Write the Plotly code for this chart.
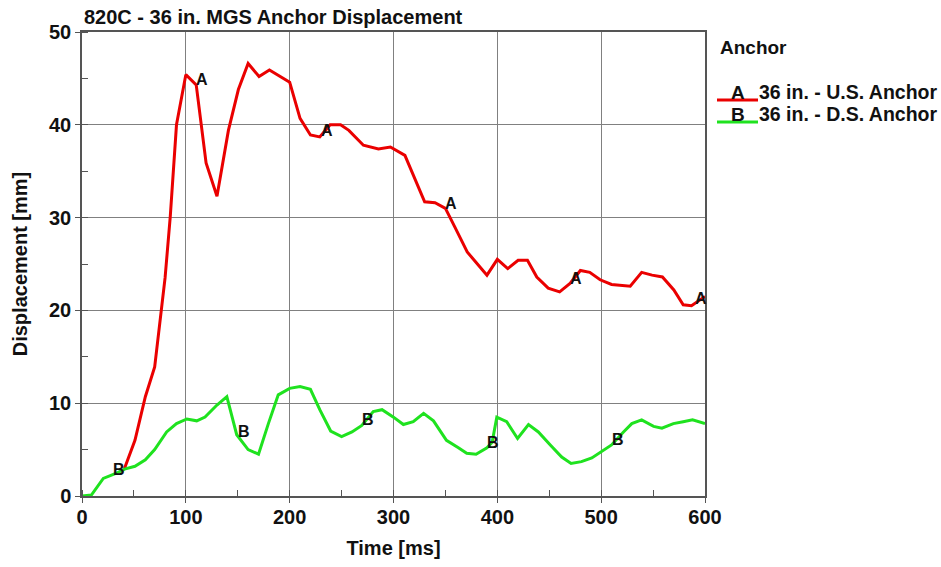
import numpy as np
import plotly.graph_objects as go

# Time samples [ms] and displacement [mm] for each anchor
time_us = [41, 51, 61, 70, 80, 85, 91, 100, 110, 119.5, 130, 141, 150.6, 160, 170.5, 180.5, 200,
           210, 220, 229, 239, 249, 257, 271, 285.5, 297, 311, 321, 330, 340, 350, 359, 371, 380,
           390, 400, 410, 420, 429, 438, 449, 460, 470, 480, 489, 499, 510, 528, 539, 549, 559,
           570, 579, 587, 600]
disp_us = [3.0, 6.0, 10.7, 13.9, 23.5, 30.1, 40.0, 45.4, 44.3, 35.9, 32.3, 39.4, 43.8, 46.6, 45.2,
           45.9, 44.6, 40.7, 38.9, 38.7, 40.0, 40.0, 39.4, 37.8, 37.4, 37.6, 36.7, 34.0, 31.7, 31.6,
           31.0, 29.0, 26.3, 25.1, 23.8, 25.5, 24.5, 25.4, 25.4, 23.6, 22.4, 22.0, 22.9, 24.3, 24.1,
           23.3, 22.8, 22.6, 24.1, 23.8, 23.6, 22.2, 20.6, 20.5, 21.5]

time_ds = [0, 9, 20.5, 32, 41, 51, 61, 70, 81.5, 91, 101, 110.5, 118.5, 130, 139.5, 149, 160, 170,
           179.5, 189, 200, 210, 220, 229, 239.5, 250, 260, 269.5, 280.5, 289, 300, 309.5, 319,
           329, 338.5, 351, 362.5, 370.5, 379.5, 390, 395, 399.5, 409, 419.5, 430, 439.5, 451, 462,
           471, 481, 491, 500.5, 510, 521.5, 529.5, 539, 550.5, 558.5, 569.5, 579, 588, 600]
disp_ds = [0.0, 0.1, 1.9, 2.4, 2.9, 3.2, 3.9, 5.0, 6.9, 7.8, 8.3, 8.1, 8.5, 9.8, 10.7, 6.6, 5.0, 4.5,
           7.8, 10.9, 11.6, 11.8, 11.5, 9.3, 7.0, 6.4, 6.9, 7.6, 9.1, 9.3, 8.5, 7.7, 8.0, 8.9, 8.1,
           6.0, 5.2, 4.6, 4.5, 5.2, 5.8, 8.5, 8.0, 6.2, 7.7, 6.9, 5.5, 4.2, 3.5, 3.7, 4.1, 4.8, 5.5,
           6.9, 7.8, 8.2, 7.5, 7.3, 7.8, 8.0, 8.2, 7.8]

# Points along each line where the curve identifier letter is attached [ms]
label_t_us = [110, 230, 350, 470, 590]
label_t_ds = [30, 150, 270, 390, 510]

series_names = ["36 in. - U.S. Anchor", "36 in. - D.S. Anchor"]
series_letters = ["A", "B"]
series_colors = ["#ea0000", "#1fe21f"]

x_ticks = [0, 100, 200, 300, 400, 500, 600]
y_ticks = [0, 10, 20, 30, 40, 50]

FONT = "Liberation Sans, Arial, sans-serif"
FS = 20
W, H = 941, 567
L, R, T, B = 82, 236, 32, 71
PW, PH = W - L - R, H - T - B


def px(x):
    return (x - L) / PW


def py(y):
    return (H - B - y) / PH


fig = go.Figure()

for t, d, c in [(time_us, disp_us, series_colors[0]), (time_ds, disp_ds, series_colors[1])]:
    fig.add_trace(go.Scatter(x=t, y=d, mode="lines", line=dict(color=c, width=3),
                             showlegend=False, hoverinfo="skip"))

annotations = []
# Curve identifier letters sitting on the lines
for lt, t, d, letter in [(label_t_us, time_us, disp_us, "A"), (label_t_ds, time_ds, disp_ds, "B")]:
    for xv, yv in zip(lt, np.interp(lt, t, d)):
        annotations.append(dict(text=f"<b>{letter}</b>", x=xv, y=yv, xref="x", yref="y",
                                showarrow=False, xanchor="left", yanchor="middle",
                                xshift=-2, yshift=5,
                                font=dict(family=FONT, size=16, color="#111111")))

overlay = [
    dict(text="<b>820C - 36 in. MGS Anchor Displacement</b>", x=px(82), y=py(17),
         xanchor="left", yanchor="middle", size=FS),
    dict(text="<b>Anchor</b>", x=px(718), y=py(47), xanchor="left", yanchor="middle", size=19),
]
shapes = []
for i, (name, letter, color) in enumerate(zip(series_names, series_letters, series_colors)):
    ly = 92 + i * 22
    shapes.append(dict(type="line", xref="paper", yref="paper", x0=px(717), x1=px(758),
                       y0=py(ly + 8), y1=py(ly + 8), line=dict(color=color, width=3)))
    overlay.append(dict(text=f"<b>{letter}</b>", x=px(738), y=py(ly), xanchor="center",
                        yanchor="middle", size=19))
    overlay.append(dict(text=f"<b>{name}</b>", x=px(757), y=py(ly), xanchor="left",
                        yanchor="middle", size=19.5))
for a in overlay:
    size = a.pop("size")
    a.update(xref="paper", yref="paper", showarrow=False,
             font=dict(family=FONT, size=size, color="#111111"))
annotations += overlay

axis_common = dict(showline=True, linecolor="#555555", linewidth=1.5, mirror=True,
                   showgrid=True, gridcolor="#808080", gridwidth=1,
                   ticks="outside", ticklen=5, tickcolor="#555555", zeroline=False,
                   tickfont=dict(family=FONT, size=FS, color="#111111"))

fig.update_layout(
    width=W, height=H,
    margin=dict(l=L, r=R, t=T, b=B),
    paper_bgcolor="white", plot_bgcolor="white",
    font=dict(family=FONT, color="#111111"),
    xaxis=dict(range=[0, 600], tickvals=x_ticks, ticktext=[f"<b>{v}</b>" for v in x_ticks],
               minor=dict(dtick=50, tick0=0, ticks="inside", ticklen=6, tickcolor="#555555",
                          showgrid=False),
               ticklabelstandoff=-3,
               title=dict(text="<b>Time [ms]</b>", font=dict(family=FONT, size=FS), standoff=14),
               **axis_common),
    yaxis=dict(range=[0, 50], tickvals=y_ticks, ticktext=[f"<b>{v}</b>" for v in y_ticks],
               minor=dict(dtick=5, tick0=0, ticks="inside", ticklen=6, tickcolor="#555555",
                          showgrid=False),
               title=dict(text="<b>Displacement [mm]</b>", font=dict(family=FONT, size=FS),
                          standoff=16),
               **axis_common),
    annotations=annotations,
    shapes=shapes,
)

fig.write_html("out.html")
